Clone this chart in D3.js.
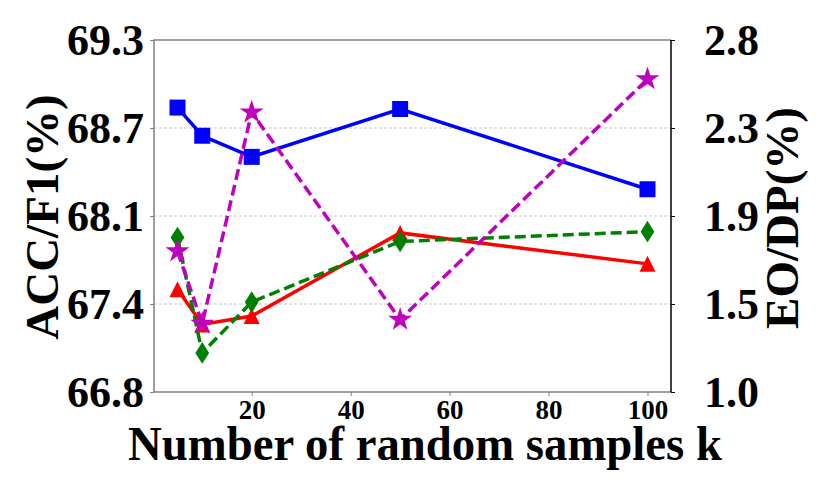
<!DOCTYPE html>
<html>
<head>
<meta charset="utf-8">
<script src="https://cdn.jsdelivr.net/npm/d3@7"></script>
<style>
  body { margin: 0; background: #fff; }
  svg text { font-family: 'Liberation Serif', 'Times New Roman', serif; font-weight: bold; fill: #000; }
</style>
</head>
<body>
<div id="app"></div>
<script>
// Data
const kValues = [5, 10, 20, 50, 100];
const accValues = [68.82, 68.62, 68.47, 68.81, 68.24];   // blue squares, left axis
const f1Values = [67.53, 67.28, 67.34, 67.93, 67.71];    // red triangles, left axis
const eoValues = [1.79, 1.20, 1.46, 1.77, 1.82];         // green diamonds, right axis
const dpValues = [1.72, 1.35, 2.43, 1.37, 2.60];         // magenta stars, right axis

const xTicks = [20, 40, 60, 80, 100];
const leftTickLabels = ['66.8', '67.4', '68.1', '68.7', '69.3'];
const rightTickLabels = ['1.0', '1.5', '1.9', '2.3', '2.8'];

const width = 830, height = 493;
const plot = { left: 154, right: 671, top: 40, bottom: 392 };

const svg = d3.select('#app').append('svg')
    .attr('width', width)
    .attr('height', height);

// Scales
const x = d3.scaleLinear().domain([0.25, 104.75]).range([plot.left, plot.right]);
const yLeft = d3.scaleLinear().domain([66.8, 69.3]).range([plot.bottom, plot.top]);
const yRight = d3.scaleLinear().domain([1.0, 2.8]).range([plot.bottom, plot.top]);

const leftTickVals = d3.range(5).map(i => 66.8 + i * 2.5 / 4);
const rightTickVals = d3.range(5).map(i => 1.0 + i * 1.8 / 4);

// Grid lines (left axis ticks)
svg.append('g')
    .selectAll('line')
    .data(leftTickVals.slice(1, -1))
    .enter().append('line')
    .attr('x1', plot.left).attr('x2', plot.right)
    .attr('y1', d => yLeft(d)).attr('y2', d => yLeft(d))
    .attr('stroke', '#c8c8c8')
    .attr('stroke-width', 1)
    .attr('stroke-dasharray', '3,2');

// Left axis
const leftAxis = svg.append('g')
    .attr('transform', `translate(${plot.left},0)`)
    .call(d3.axisLeft(yLeft).tickValues(leftTickVals).tickSize(4).tickPadding(6)
        .tickFormat((d, i) => leftTickLabels[i]));
leftAxis.select('.domain').remove();
leftAxis.selectAll('line').attr('stroke', '#808080');
leftAxis.selectAll('text').style('font-size', '44px').attr('dy', '0.33em');

// Right axis
const rightAxis = svg.append('g')
    .attr('transform', `translate(${plot.right},0)`)
    .call(d3.axisRight(yRight).tickValues(rightTickVals).tickSize(4).tickPadding(29)
        .tickFormat((d, i) => rightTickLabels[i]));
rightAxis.select('.domain').remove();
rightAxis.selectAll('line').attr('stroke', '#000');
rightAxis.selectAll('text').style('font-size', '44px').attr('dy', '0.33em');

// Bottom axis
const bottomAxis = svg.append('g')
    .attr('transform', `translate(0,${plot.bottom})`)
    .call(d3.axisBottom(x).tickValues(xTicks).tickSize(4).tickPadding(4));
bottomAxis.select('.domain').remove();
bottomAxis.selectAll('line').attr('stroke', '#808080');
bottomAxis.selectAll('text').style('font-size', '27px');

// Spines
svg.append('path')
    .attr('d', `M${plot.right},${plot.top}H${plot.left}V${plot.bottom}H${plot.right}`)
    .attr('fill', 'none')
    .attr('stroke', '#808080')
    .attr('stroke-width', 1.5);
svg.append('line')
    .attr('x1', plot.right).attr('x2', plot.right)
    .attr('y1', plot.top).attr('y2', plot.bottom)
    .attr('stroke', '#000')
    .attr('stroke-width', 1.5);

// Marker shapes
const markers = {
    square: s => `M${-s/2},${-s/2}h${s}v${s}h${-s}Z`,
    triangle: s => `M0,${-s/2}L${s/2},${s/2}L${-s/2},${s/2}Z`,
    diamond: s => `M0,${-s*0.68}L${s*0.43},0L0,${s*0.68}L${-s*0.43},0Z`,
    star: s => d3.symbol(d3.symbolStar, s * s * 0.55)()
};

const series = [
    { values: accValues, y: yLeft, color: '#0000ff', dash: null, marker: 'square', size: 16 },
    { values: f1Values, y: yLeft, color: '#ff0000', dash: null, marker: 'triangle', size: 16 },
    { values: eoValues, y: yRight, color: '#008000', dash: '11,5', marker: 'diamond', size: 16 },
    { values: dpValues, y: yRight, color: '#bf00bf', dash: '11,5', marker: 'star', size: 18 }
];

series.forEach(s => {
    const pts = kValues.map((k, i) => [x(k), s.y(s.values[i])]);
    svg.append('path')
        .attr('d', d3.line()(pts))
        .attr('fill', 'none')
        .attr('stroke', s.color)
        .attr('stroke-width', 3.5)
        .attr('stroke-dasharray', s.dash);
    svg.append('g')
        .selectAll('path')
        .data(pts)
        .enter().append('path')
        .attr('transform', d => `translate(${d[0]},${d[1]})`)
        .attr('d', markers[s.marker](s.size))
        .attr('fill', s.color);
});

// Axis titles
svg.append('text')
    .attr('transform', 'translate(58,217) rotate(-90)')
    .attr('text-anchor', 'middle')
    .style('font-size', '47px')
    .text('ACC/F1(%)');

svg.append('text')
    .attr('transform', 'translate(798,218) rotate(-90)')
    .attr('text-anchor', 'middle')
    .style('font-size', '47px')
    .text('EO/DP(%)');

svg.append('text')
    .attr('x', 425)
    .attr('y', 460)
    .attr('text-anchor', 'middle')
    .attr('textLength', 594)
    .attr('lengthAdjust', 'spacingAndGlyphs')
    .style('font-size', '48px')
    .text('Number of random samples k');
</script>
</body>
</html>
